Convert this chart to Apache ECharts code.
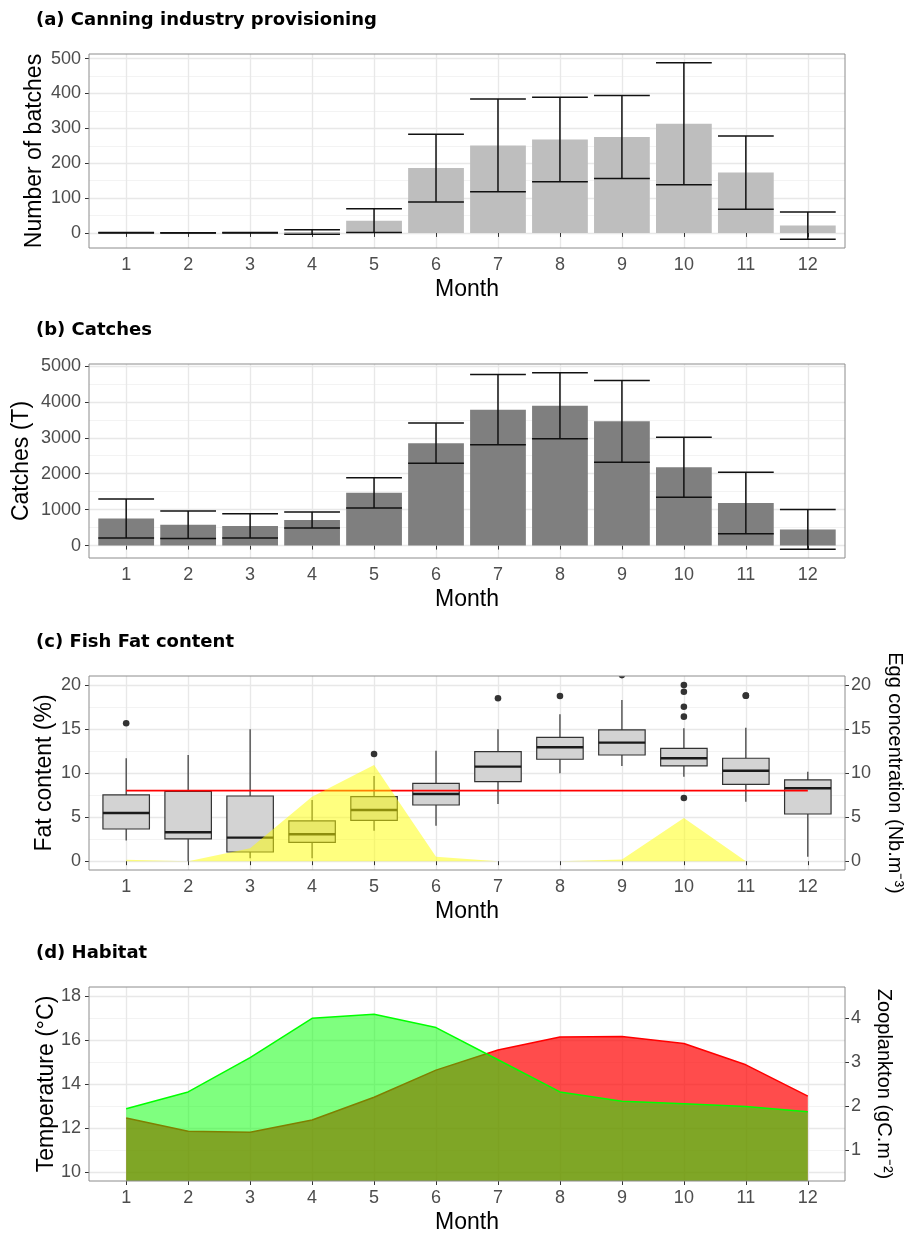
<!DOCTYPE html>
<html>
<head>
<meta charset="utf-8">
<title>Seasonal cycle</title>
<script src="https://cdn.jsdelivr.net/npm/echarts@6.0.0/dist/echarts.min.js"></script>
<style>
html, body { margin: 0; padding: 0; background: #fff; }
#main { width: 909px; height: 1233px; }
</style>
</head>
<body>
<div id="main"></div>
<script>
// months (x axis of every panel)
const months = [1, 2, 3, 4, 5, 6, 7, 8, 9, 10, 11, 12];

// (a) canning industry provisioning : mean +/- sd of batches
const batchMean = [0.5, 0.3, 0.5, 2.7, 35, 186, 251, 268, 275, 313, 173, 21];
const batchSd = [0.7, 0.3, 0.7, 6.7, 34, 97, 133, 121, 119, 175, 105, 39];
const batchTicks = [0, 100, 200, 300, 400, 500];

// (b) catches (T) : mean +/- sd
const catchMean = [750, 579, 546, 712, 1466, 2850, 3782, 3888, 3456, 2178, 1185, 450];
const catchSd = [543, 386, 336, 221, 418, 560, 979, 919, 1140, 837, 855, 551];
const catchTicks = [0, 1000, 2000, 3000, 4000, 5000];

// (c) fish fat content : boxplot stats per month
const fatLow = [2.34, 0, 0.33, 0.33, 3.46, 4.03, 6.49, 9.97, 10.8, 9.58, 6.75, 0.51];
const fatQ1 = [3.65, 2.52, 1.04, 2.14, 4.63, 6.37, 9.02, 11.56, 12.04, 10.8, 8.72, 5.35];
const fatMed = [5.47, 3.28, 2.67, 3.05, 5.81, 7.62, 10.72, 12.92, 13.44, 11.67, 10.26, 8.27];
const fatQ3 = [7.51, 7.9, 7.39, 4.56, 7.32, 8.83, 12.42, 14.05, 14.88, 12.8, 11.67, 9.21];
const fatHigh = [11.67, 12.04, 14.96, 6.94, 9.66, 12.53, 14.96, 16.66, 18.28, 15.07, 15.14, 10.15];
const fatOutliers = [[1, 15.64], [5, 12.16], [7, 18.47], [8, 18.73], [9, 21.1], [10, 19.98], [10, 19.22],
    [10, 17.52], [10, 16.39], [10, 7.17], [11, 18.77], [11, 18.77]];
const fatRef = 8;
const eggConc = [0.15, 0, 1.46, 7.3, 10.9, 0.5, 0, 0, 0.2, 4.9, 0, 0.2];
const fatTicks = [0, 5, 10, 15, 20];

// (d) habitat : temperature (left) and zooplankton (right)
const temperature = [12.46, 11.86, 11.81, 12.37, 13.40, 14.63, 15.54, 16.13, 16.16, 15.84, 14.87, 13.45];
const zooplankton = [1.94, 2.32, 3.10, 3.99, 4.08, 3.78, 3.05, 2.32, 2.11, 2.05, 1.99, 1.87];
const tempTicks = [10, 12, 14, 16, 18];
const zooTicks = [1, 2, 3, 4];

const FONT = 'Liberation Sans, Arial, Helvetica, sans-serif';
const GRID_LEFT = 89, GRID_W = 756, GRID_H = 194;
const gridTops = [54, 364, 676, 987];

// ggplot style 5% expansion
const padRange = function(lo, hi) {
    let d = hi - lo;
    return [lo - d * 0.05, hi + d * 0.05];
};
const sdRange = function(mean, sd) {
    let lo = Math.min(...mean.map((m, i) => m - sd[i]));
    let hi = Math.max(...mean.map((m, i) => m + sd[i]));
    return padRange(lo, hi);
};
// secondary axis of (d): zoo = (temp - 9) / 2
const zooFromTemp = t => (t - 9) / 2;

const batchRange = sdRange(batchMean, batchSd);
const catchRange = sdRange(catchMean, catchSd);
const fatRange = padRange(0, 20);
const tempRange = padRange(10, 18);
const zooRange = tempRange.map(zooFromTemp);

const monthAxis = function(gridIndex) {
    return {
        type: 'value', gridIndex: gridIndex,
        min: 0.4, max: 12.6, splitNumber: 12,
        name: 'Month', nameLocation: 'middle', nameGap: 30, nameMoveOverlap: false,
        nameTextStyle: {fontSize: 23, color: '#000', fontFamily: FONT},
        axisLine: {show: false},
        axisTick: {show: true, length: 4, customValues: months, lineStyle: {color: '#333', width: 1}},
        axisLabel: {
            customValues: months, margin: 8, fontSize: 18, color: '#4d4d4d', fontFamily: FONT,
            formatter: v => (Number.isInteger(v) ? String(v) : '')
        },
        splitLine: {show: true, lineStyle: {color: '#e8e8e8', width: 1.4}},
        minorTick: {show: false},
        minorSplitLine: {show: false}
    };
};

const valueAxis = function(gridIndex, name, range, ticks, nameGap, side) {
    let right = side === 'right';
    return {
        type: 'value', gridIndex: gridIndex, position: right ? 'right' : 'left',
        min: range[0], max: range[1],
        name: name, nameLocation: 'middle', nameGap: nameGap, nameMoveOverlap: false,
        nameRotate: right ? -90 : 90,
        nameTextStyle: {fontSize: right ? 20 : 23, color: '#000', fontFamily: FONT},
        axisLine: {show: false},
        axisTick: {show: true, length: 4, customValues: ticks, lineStyle: {color: '#333', width: 1}},
        axisLabel: {
            customValues: ticks, margin: right ? 6 : 8, fontSize: 18, color: '#4d4d4d', fontFamily: FONT,
            formatter: v => (ticks.indexOf(v) >= 0 ? String(v) : '')
        },
        splitLine: {show: !right, lineStyle: {color: '#e8e8e8', width: 1.4}},
        minorTick: {show: false, splitNumber: 2},
        minorSplitLine: {show: !right, lineStyle: {color: '#f2f2f2', width: 0.9}}
    };
};

// bar from 0 to mean, width 0.9 month
const barItem = function(fill) {
    return function(params, api) {
        let x = api.value(0), y = api.value(1);
        let p0 = api.coord([x - 0.45, y]);
        let p1 = api.coord([x + 0.45, 0]);
        return {
            type: 'rect',
            shape: {x: p0[0], y: Math.min(p0[1], p1[1]), width: p1[0] - p0[0], height: Math.abs(p1[1] - p0[1])},
            style: {fill: fill}
        };
    };
};

// error bar mean +/- sd
const errItem = function(params, api) {
    let x = api.value(0), m = api.value(1), s = api.value(2);
    let top = api.coord([x, m + s]), bot = api.coord([x, m - s]);
    let l = api.coord([x - 0.45, m])[0], r = api.coord([x + 0.45, m])[0];
    const st = () => ({stroke: '#111', lineWidth: 1.5});
    return {
        type: 'group',
        children: [
            {type: 'line', shape: {x1: l, y1: top[1], x2: r, y2: top[1]}, style: st()},
            {type: 'line', shape: {x1: l, y1: bot[1], x2: r, y2: bot[1]}, style: st()},
            {type: 'line', shape: {x1: top[0], y1: top[1], x2: bot[0], y2: bot[1]}, style: st()}
        ]
    };
};

// boxplot element: [month, low, q1, med, q3, high]
const boxItem = function(params, api) {
    let x = api.value(0);
    let low = api.coord([x, api.value(1)]), q1 = api.coord([x, api.value(2)]);
    let med = api.coord([x, api.value(3)]), q3 = api.coord([x, api.value(4)]);
    let high = api.coord([x, api.value(5)]);
    let l = api.coord([x - 0.375, 0])[0], r = api.coord([x + 0.375, 0])[0];
    const st = () => ({stroke: '#333', lineWidth: 1.2});
    return {
        type: 'group',
        children: [
            {type: 'line', shape: {x1: low[0], y1: low[1], x2: q1[0], y2: q1[1]}, style: st()},
            {type: 'line', shape: {x1: q3[0], y1: q3[1], x2: high[0], y2: high[1]}, style: st()},
            {type: 'rect', shape: {x: l, y: q3[1], width: r - l, height: q1[1] - q3[1]},
                style: {fill: '#d3d3d3', stroke: '#333', lineWidth: 1.2}},
            {type: 'line', shape: {x1: l, y1: med[1], x2: r, y2: med[1]}, style: {stroke: '#1a1a1a', lineWidth: 2.4}}
        ]
    };
};

const outlierItem = function(params, api) {
    let p = api.coord([api.value(0), api.value(1)]);
    return {type: 'circle', shape: {cx: p[0], cy: p[1], r: 3.3}, style: {fill: '#333'}};
};

const drawChart = function(id) {
    // 基于准备好的dom，初始化echarts实例
    let myChart = echarts.init(document.getElementById(id), null, {renderer: 'canvas'});

    const titleStyle = {fontSize: 18, fontWeight: 'bold', color: '#000', fontFamily: 'DejaVu Sans, sans-serif'};
    const titles = ['(a) Canning industry provisioning', '(b) Catches', '(c) Fish Fat content', '(d) Habitat'];

    let option = {
        animation: false,
        backgroundColor: '#fff',
        title: titles.map((t, i) => ({text: t, left: 36, top: gridTops[i] - 43, padding: 0, textStyle: titleStyle})),
        grid: gridTops.map(t => ({
            left: GRID_LEFT, top: t, width: GRID_W, height: GRID_H,
            containLabel: false, outerBoundsMode: 'none', show: false
        })),
        // panel borders on top of the data
        graphic: gridTops.map(t => ({
            type: 'rect', z: 100, silent: true,
            shape: {x: GRID_LEFT, y: t, width: GRID_W, height: GRID_H},
            style: {fill: null, stroke: '#8c8c8c', lineWidth: 1}
        })),
        xAxis: [monthAxis(0), monthAxis(1), monthAxis(2), monthAxis(3)],
        yAxis: [
            valueAxis(0, 'Number of batches', batchRange, batchTicks, 43, 'left'),
            valueAxis(1, 'Catches (T)', catchRange, catchTicks, 56, 'left'),
            valueAxis(2, 'Fat content (%)', fatRange, fatTicks, 33, 'left'),
            valueAxis(2, 'Egg concentration (Nb.m\u207B\u00B3)', fatRange, fatTicks, 40, 'right'),
            valueAxis(3, 'Temperature (\u00B0C)', tempRange, tempTicks, 31, 'left'),
            valueAxis(3, 'Zooplankton (gC.m\u207B\u00B2)', zooRange, zooTicks, 29, 'right')
        ],
        series: [
            {
                name: 'batches', type: 'custom', xAxisIndex: 0, yAxisIndex: 0, z: 2,
                data: months.map((m, i) => [m, batchMean[i], batchSd[i]]),
                encode: {x: 0, y: 1}, renderItem: barItem('#bebebe')
            },
            {
                name: 'batches sd', type: 'custom', xAxisIndex: 0, yAxisIndex: 0, z: 3,
                data: months.map((m, i) => [m, batchMean[i], batchSd[i]]),
                encode: {x: 0, y: 1}, renderItem: errItem
            },
            {
                name: 'catches', type: 'custom', xAxisIndex: 1, yAxisIndex: 1, z: 2,
                data: months.map((m, i) => [m, catchMean[i], catchSd[i]]),
                encode: {x: 0, y: 1}, renderItem: barItem('#7f7f7f')
            },
            {
                name: 'catches sd', type: 'custom', xAxisIndex: 1, yAxisIndex: 1, z: 3,
                data: months.map((m, i) => [m, catchMean[i], catchSd[i]]),
                encode: {x: 0, y: 1}, renderItem: errItem
            },
            {
                name: 'fat', type: 'custom', xAxisIndex: 2, yAxisIndex: 2, z: 2,
                data: months.map((m, i) => [m, fatLow[i], fatQ1[i], fatMed[i], fatQ3[i], fatHigh[i]]),
                encode: {x: 0, y: 3}, renderItem: boxItem
            },
            {
                name: 'fat outliers', type: 'custom', xAxisIndex: 2, yAxisIndex: 2, z: 2, clip: true,
                data: fatOutliers, encode: {x: 0, y: 1}, renderItem: outlierItem
            },
            {
                name: 'fat ref', type: 'line', xAxisIndex: 2, yAxisIndex: 2, z: 3,
                data: [[months[0], fatRef], [months[months.length - 1], fatRef]],
                symbol: 'none', lineStyle: {color: '#ff0000', width: 1.8}
            },
            {
                name: 'eggs', type: 'line', xAxisIndex: 2, yAxisIndex: 3, z: 4,
                data: months.map((m, i) => [m, eggConc[i]]),
                symbol: 'none', lineStyle: {width: 0, opacity: 0},
                areaStyle: {color: '#ffff00', opacity: 0.5}
            },
            {
                name: 'temperature', type: 'line', xAxisIndex: 3, yAxisIndex: 4, z: 2,
                data: months.map((m, i) => [m, temperature[i]]),
                symbol: 'none', lineStyle: {color: '#ff0000', width: 1.5},
                areaStyle: {color: '#ff0000', opacity: 0.7}
            },
            {
                name: 'zooplankton', type: 'line', xAxisIndex: 3, yAxisIndex: 5, z: 3,
                data: months.map((m, i) => [m, zooplankton[i]]),
                symbol: 'none', lineStyle: {color: '#00ff00', width: 1.5},
                areaStyle: {color: '#00ff00', opacity: 0.5}
            }
        ]
    };

    myChart.setOption(option);

    window.addEventListener("resize", function() {
        myChart.resize();
    });
};

drawChart('main');
</script>
</body>
</html>
